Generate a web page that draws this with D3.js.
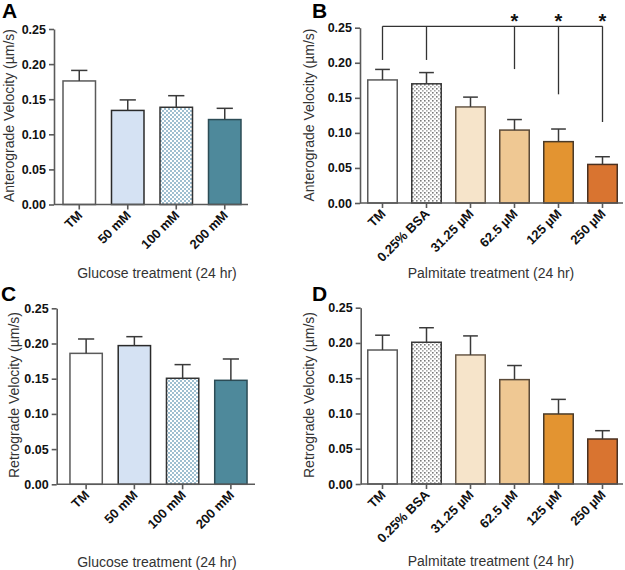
<!DOCTYPE html>
<html><head><meta charset="utf-8">
<script src="https://cdn.jsdelivr.net/npm/d3@7"></script>
<style>body{margin:0;background:#fff}svg{display:block}</style>
</head><body>
<svg id="c" width="625" height="570"></svg>
<script>
// ---------- DATA ----------
const glucoseCats = ["TM", "50 mM", "100 mM", "200 mM"];
const palmCats = ["TM", "0.25% BSA", "31.25 µM", "62.5 µM", "125 µM", "250 µM"];
const yTicks = [0, 0.05, 0.10, 0.15, 0.20, 0.25];

const antGlucoseMean = [0.176, 0.134, 0.1385, 0.121];
const antGlucoseSem  = [0.015, 0.015, 0.0165, 0.016];
const antPalmMean = [0.1755, 0.170, 0.137, 0.104, 0.0875, 0.055];
const antPalmSem  = [0.015, 0.016, 0.014, 0.015, 0.018, 0.011];
const retGlucoseMean = [0.186, 0.197, 0.1506, 0.1477];
const retGlucoseSem  = [0.0204, 0.0127, 0.0194, 0.0303];
const retPalmMean = [0.190, 0.201, 0.183, 0.148, 0.0993, 0.0638];
const retPalmSem  = [0.021, 0.0206, 0.027, 0.020, 0.0207, 0.0118];

// significance bracket (panel B)
const sigLevel = 0.252;
const sigCats = ["TM", "0.25% BSA", "62.5 µM", "125 µM", "250 µM"];
const sigEnds = [0.204, 0.204, 0.191, 0.155, 0.1155];
const sigStars = [false, false, true, true, true];

// ---------- STYLES ----------
const glucoseFill = ["#ffffff", "#d5e2f3", "url(#checker)", "#4e899b"];
const glucoseStroke = ["#5a5a5a", "#2a2a2a", "#333333", "#2c4c56"];
const palmFill = ["#ffffff", "url(#dots)", "#f6e4ca", "#efc893", "#e39431", "#d97430"];
const palmStroke = ["#5a5a5a", "#3a3a3a", "#6a5a48", "#5a4a38", "#4a3a28", "#4a3020"];

const svg = d3.select("#c");
const defs = svg.append("defs");
const chk = defs.append("pattern").attr("id", "checker").attr("patternUnits", "userSpaceOnUse")
  .attr("width", 4).attr("height", 4);
chk.append("rect").attr("width", 4).attr("height", 4).attr("fill", "#ffffff");
chk.append("rect").attr("width", 2).attr("height", 2).attr("fill", "#9fbfd0");
chk.append("rect").attr("x", 2).attr("y", 2).attr("width", 2).attr("height", 2).attr("fill", "#9fbfd0");
const dots = defs.append("pattern").attr("id", "dots").attr("patternUnits", "userSpaceOnUse")
  .attr("width", 4).attr("height", 4);
dots.append("rect").attr("width", 4).attr("height", 4).attr("fill", "#ffffff");
dots.append("rect").attr("width", 1.6).attr("height", 1.6).attr("fill", "#7a7a7a");
dots.append("rect").attr("x", 2).attr("y", 2).attr("width", 1.6).attr("height", 1.6).attr("fill", "#a8a8a8");

const FONT = "'Liberation Sans', Arial, Helvetica, sans-serif";
const AX = "#5a5a5a";

function panel(o) {
  const g = svg.append("g");
  const y = d3.scaleLinear().domain([0, 0.25]).range([o.y0, o.y25]);
  const x = d3.scaleBand().domain(o.cats).range(o.xr).paddingInner(0.33).paddingOuter(0.165);
  const bw = x.bandwidth();

  // y axis
  const ya = g.append("g").attr("transform", `translate(${o.ax},0)`)
    .call(d3.axisLeft(y).tickValues(yTicks).tickFormat(d3.format(".2f")).tickSize(5).tickSizeOuter(0).tickPadding(3));
  ya.select(".domain").attr("stroke", AX).attr("stroke-width", 1.6);
  ya.selectAll(".tick line").attr("stroke", AX).attr("stroke-width", 1.6);
  ya.selectAll(".tick text").attr("font-family", FONT).attr("font-weight", "bold")
    .attr("font-size", "12.5px").attr("fill", "#111");

  // bars
  g.selectAll("rect.bar").data(o.cats).join("rect").attr("class", "bar")
    .attr("x", d => x(d)).attr("width", bw)
    .attr("y", (d, i) => y(o.mean[i])).attr("height", (d, i) => y(0) - y(o.mean[i]))
    .attr("fill", (d, i) => o.fill[i]).attr("stroke", (d, i) => o.stroke[i]).attr("stroke-width", 1.5);

  // error bars
  const capW = bw * 0.5;
  o.cats.forEach((d, i) => {
    const cx = x(d) + bw / 2;
    g.append("line").attr("x1", cx).attr("x2", cx).attr("y1", y(o.mean[i])).attr("y2", y(o.mean[i] + o.sem[i]))
      .attr("stroke", "#3a3a3a").attr("stroke-width", 1.5);
    g.append("line").attr("x1", cx - capW / 2).attr("x2", cx + capW / 2)
      .attr("y1", y(o.mean[i] + o.sem[i])).attr("y2", y(o.mean[i] + o.sem[i]))
      .attr("stroke", "#3a3a3a").attr("stroke-width", 1.5);
  });

  // x axis
  const xa = g.append("g").attr("transform", `translate(0,${o.y0})`)
    .call(d3.axisBottom(x).tickSize(5).tickSizeOuter(0).tickFormat(""));
  xa.select(".domain").remove();
  xa.selectAll(".tick line").attr("stroke", AX).attr("stroke-width", 1.6);
  g.append("line").attr("x1", o.ax).attr("x2", o.xEnd).attr("y1", o.y0).attr("y2", o.y0)
    .attr("stroke", AX).attr("stroke-width", 1.6);
  g.selectAll("text.xl").data(o.cats).join("text").attr("class", "xl")
    .attr("transform", d => `translate(${x(d) + bw / 2 + 4},${o.y0 + 11.5}) rotate(-45)`)
    .attr("text-anchor", "end").attr("font-family", FONT).attr("font-weight", "bold")
    .attr("font-size", "13px").attr("fill", "#111").text(d => d);

  // titles
  g.append("text").attr("transform", `translate(${o.ytx},${o.yty}) rotate(-90)`)
    .attr("text-anchor", "middle").attr("font-family", FONT).attr("font-size", "14px")
    .attr("fill", "#333").text(o.ytitle);
  g.append("text").attr("x", o.xtx).attr("y", o.xty).attr("text-anchor", "middle")
    .attr("font-family", FONT).attr("font-size", "14px").attr("fill", "#333").text(o.xtitle);
  g.append("text").attr("x", o.lx).attr("y", o.ly).attr("font-family", FONT).attr("font-weight", "bold")
    .attr("font-size", "21px").attr("fill", "#000").text(o.letter);

  return { g, x, y, bw };
}

panel({ letter: "A", lx: 2, ly: 17.5, cats: glucoseCats, mean: antGlucoseMean, sem: antGlucoseSem,
  fill: glucoseFill, stroke: glucoseStroke, ax: 54, xEnd: 248, xr: [55, 249], y0: 204.5, y25: 29,
  ytitle: "Anterograde Velocity (µm/s)", ytx: 13.5, yty: 115.5,
  xtitle: "Glucose treatment (24 hr)", xtx: 157, xty: 278 });

const pB = panel({ letter: "B", lx: 312, ly: 17.5, cats: palmCats, mean: antPalmMean, sem: antPalmSem,
  fill: palmFill, stroke: palmStroke, ax: 360, xEnd: 623, xr: [360.5, 624.5], y0: 203, y25: 27.7,
  ytitle: "Anterograde Velocity (µm/s)", ytx: 314, yty: 115,
  xtitle: "Palmitate treatment (24 hr)", xtx: 491, xty: 278 });

panel({ letter: "C", lx: 1, ly: 300.5, cats: glucoseCats, mean: retGlucoseMean, sem: retGlucoseSem,
  fill: glucoseFill, stroke: glucoseStroke, ax: 56.7, xEnd: 255, xr: [62, 255], y0: 484.3, y25: 308.3,
  ytitle: "Retrograde Velocity (µm/s)", ytx: 19, yty: 395,
  xtitle: "Glucose treatment (24 hr)", xtx: 157, xty: 567 });

panel({ letter: "D", lx: 312, ly: 300.5, cats: palmCats, mean: retPalmMean, sem: retPalmSem,
  fill: palmFill, stroke: palmStroke, ax: 360.7, xEnd: 623, xr: [360.5, 624.5], y0: 484, y25: 307.7,
  ytitle: "Retrograde Velocity (µm/s)", ytx: 314, yty: 395,
  xtitle: "Palmitate treatment (24 hr)", xtx: 491, xty: 566 });

// significance bracket in B
{
  const { g, x, y, bw } = pB;
  const cxs = sigCats.map(c => x(c) + bw / 2);
  g.append("line").attr("x1", d3.min(cxs)).attr("x2", d3.max(cxs))
    .attr("y1", y(sigLevel)).attr("y2", y(sigLevel)).attr("stroke", "#333").attr("stroke-width", 1.3);
  sigCats.forEach((c, i) => {
    g.append("line").attr("x1", cxs[i]).attr("x2", cxs[i]).attr("y1", y(sigLevel)).attr("y2", y(sigEnds[i]))
      .attr("stroke", "#333").attr("stroke-width", 1.3);
    if (sigStars[i]) g.append("text").attr("x", cxs[i]).attr("y", y(sigLevel) + 2).attr("text-anchor", "middle")
      .attr("font-family", FONT).attr("font-weight", "bold").attr("font-size", "20px").attr("fill", "#111").text("*");
  });
}
</script>
</body></html>
